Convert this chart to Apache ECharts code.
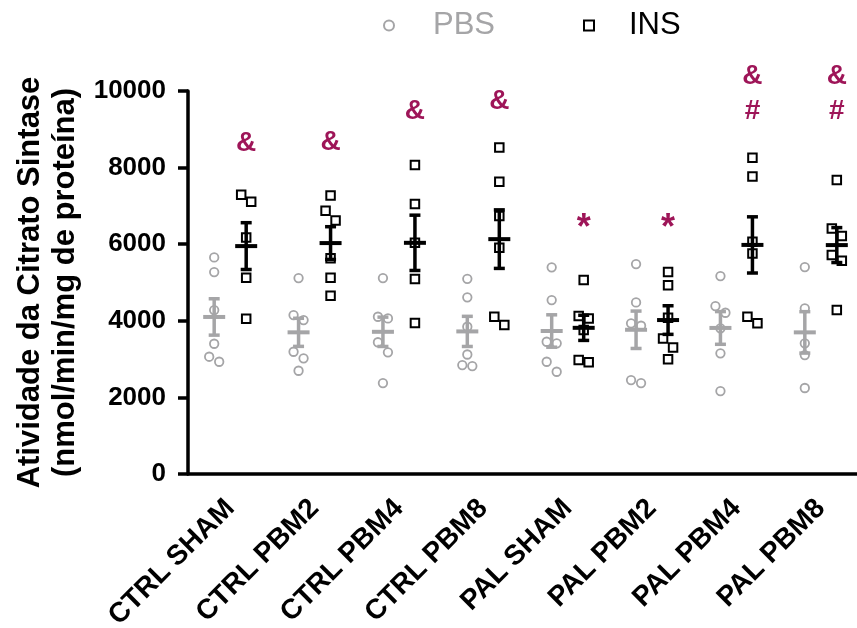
<!DOCTYPE html>
<html>
<head>
<meta charset="utf-8">
<script src="https://cdn.jsdelivr.net/npm/echarts@6/dist/echarts.min.js"></script>
<style>
html,body{margin:0;padding:0;background:#fff;}
#chart{width:857px;height:628px;}
</style>
</head>
<body>
<div id="chart"></div>
<script>
// ---------- DATA ----------
const categories = ['CTRL SHAM', 'CTRL PBM2', 'CTRL PBM4', 'CTRL PBM8', 'PAL SHAM', 'PAL PBM2', 'PAL PBM4', 'PAL PBM8'];
const pbsValues = [
  [5656, 5272, 4280, 3401, 3062, 2931],
  [5116, 4150, 4019, 3192, 3020, 2696],
  [5116, 4106, 4063, 3440, 3176, 2375],
  [5097, 4612, 3845, 3120, 2845, 2819],
  [5395, 4541, 3453, 3411, 2931, 2670],
  [5481, 4481, 3933, 3871, 2453, 2375],
  [5168, 4385, 4210, 3803, 3150, 2166],
  [5403, 4325, 3411, 3106, 2245]
];
const insValues = [
  [7290, 7107, 6178, 5124, 4053],
  [7273, 6873, 6622, 5630, 5124, 4654],
  [8065, 7047, 6037, 5090, 3941],
  [8527, 7630, 6734, 5907, 4106, 3889],
  [5063, 4124, 4063, 3758, 2975, 2915],
  [5272, 4925, 4080, 3541, 3306, 2993],
  [8256, 7770, 6063, 5760, 4106, 3933],
  [7673, 6413, 6212, 5716, 5567, 4280]
];
// significance marks (placed above the INS group, in data units)
const annoCategory = [0, 1, 2, 3, 4, 5, 6, 6, 7, 7];
const annoText     = ['&', '&', '&', '&', '*', '*', '&', '#', '&', '#'];
const annoValue    = [8630, 8670, 9480, 9740, 6400, 6400, 10380, 9480, 10380, 9480];
const yTicks = { min: 0, max: 10000, interval: 2000 };

// ---------- STYLE ----------
const GRAY = '#a5a5a7';
const BLACK = '#000000';
const MAGENTA = '#9e1558';
const GROUP_OFF = 16;   // px offset of each group from the tick
const PAIR_OFF = 5;     // px offset for overlapping points
const CLUSTER = 270;    // data units under which points are considered overlapping

function stats(arr) {
  const n = arr.length;
  const m = arr.reduce((a, b) => a + b, 0) / n;
  const v = arr.reduce((a, b) => a + (b - m) * (b - m), 0) / (n - 1);
  return [m, Math.sqrt(v / n)];
}

// build scatter points with a simple overlap-avoiding horizontal spread
function buildPoints(groups, side) {
  const out = [];
  groups.forEach((vals, ci) => {
    const asc = vals.slice().sort((a, b) => a - b);
    let i = 0;
    while (i < asc.length) {
      let j = i + 1;
      while (j < asc.length && asc[j] - asc[i] < CLUSTER) j++;
      const cl = asc.slice(i, j).sort((a, b) => b - a); // higher on the left
      const k = cl.length;
      cl.forEach((v, idx) => {
        const dx = side * GROUP_OFF + (idx - (k - 1) / 2) * 2 * PAIR_OFF;
        out.push({ value: [ci, v], symbolOffset: [dx, 0] });
      });
      i = j;
    }
  });
  return out;
}

const pbsStats = pbsValues.map((a, i) => [i].concat(stats(a)));
const insStats = insValues.map((a, i) => [i].concat(stats(a)));
const annoData = annoCategory.map((c, i) => [c, annoValue[i], annoText[i]]);

function statsRender(off, color) {
  return function (params, api) {
    const ci = api.value(0), m = api.value(1), s = api.value(2);
    const c = api.coord([ci, m]);
    const t = api.coord([ci, m + s]);
    const b = api.coord([ci, m - s]);
    const x = c[0] + off;
    const st = { stroke: color, lineWidth: 3.5 };
    return {
      type: 'group',
      children: [
        { type: 'line', shape: { x1: x, y1: t[1], x2: x, y2: b[1] }, style: st },
        { type: 'line', shape: { x1: x - 5.5, y1: t[1], x2: x + 5.5, y2: t[1] }, style: st },
        { type: 'line', shape: { x1: x - 5.5, y1: b[1], x2: x + 5.5, y2: b[1] }, style: st },
        { type: 'line', shape: { x1: x - 11, y1: c[1], x2: x + 11, y2: c[1] }, style: { stroke: color, lineWidth: 4 } }
      ]
    };
  };
}

const FONT = '"Liberation Sans", Arial, sans-serif';
const chart = echarts.init(document.getElementById('chart'), null, { renderer: 'canvas' });
chart.setOption({
  animation: false,
  backgroundColor: '#fff',
  textStyle: { fontFamily: FONT },
  legend: [
    {
      data: ['PBS'], left: 378, top: 5, itemWidth: 10, itemHeight: 10,
      textStyle: { color: GRAY, fontSize: 31, fontFamily: FONT, padding: [0, 0, 0, 34] }
    },
    {
      data: ['INS'], left: 578, top: 5, itemWidth: 10, itemHeight: 10,
      textStyle: { color: BLACK, fontSize: 31, fontFamily: FONT, padding: [0, 0, 0, 30] }
    }
  ],
  grid: { left: 188, right: -6, top: 91, bottom: 154, containLabel: false, outerBoundsMode: 'none' },
  xAxis: {
    type: 'category',
    data: categories,
    boundaryGap: true,
    axisLine: { lineStyle: { color: BLACK, width: 3.5 } },
    axisTick: { alignWithLabel: true, length: 11, lineStyle: { color: BLACK, width: 3.5 } },
    axisLabel: { rotate: 45, margin: 30, color: BLACK, fontSize: 28, fontWeight: 'bold', fontFamily: FONT, interval: 0 },
    splitLine: { show: false }
  },
  yAxis: {
    type: 'value',
    min: yTicks.min, max: yTicks.max, interval: yTicks.interval,
    name: 'Atividade da Citrato Sintase\n(nmol/min/mg de proteína)',
    nameLocation: 'middle',
    nameRotate: 90,
    nameGap: 103,
    nameTextStyle: { color: BLACK, fontSize: 31, fontWeight: 'bold', lineHeight: 35, fontFamily: FONT },
    axisLine: { show: true, lineStyle: { color: BLACK, width: 3.5 } },
    axisTick: { show: true, length: 10, lineStyle: { color: BLACK, width: 3.5 } },
    axisLabel: { color: BLACK, fontSize: 26, fontWeight: 'bold', margin: 22, fontFamily: FONT, formatter: function (v) { return String(v); } },
    splitLine: { show: false }
  },
  series: [
    {
      name: 'PBS', type: 'scatter', symbol: 'circle', symbolSize: 8.5,
      itemStyle: { color: 'rgba(255,255,255,0)', borderColor: GRAY, borderWidth: 1.8, opacity: 1 },
      data: buildPoints(pbsValues, -1), z: 2
    },
    {
      name: 'INS', type: 'scatter', symbol: 'rect', symbolSize: 8.5,
      itemStyle: { color: 'rgba(255,255,255,0)', borderColor: BLACK, borderWidth: 2, opacity: 1 },
      data: buildPoints(insValues, 1), z: 2
    },
    {
      name: 'PBS mean', type: 'custom', renderItem: statsRender(-GROUP_OFF, GRAY),
      data: pbsStats, z: 3, silent: true
    },
    {
      name: 'INS mean', type: 'custom', renderItem: statsRender(GROUP_OFF, BLACK),
      data: insStats, z: 3, silent: true
    },
    {
      name: 'marks', type: 'custom', clip: false, silent: true, z: 4,
      renderItem: function (params, api) {
        const c = api.coord([api.value(0), api.value(1)]);
        const txt = annoData[params.dataIndex][2];
        const size = txt === '*' ? 36 : 28;
        return {
          type: 'text',
          style: {
            x: c[0] + GROUP_OFF, y: c[1], text: txt,
            fill: MAGENTA, font: 'bold ' + size + 'px "Liberation Sans", Arial, sans-serif',
            align: 'center', verticalAlign: 'middle'
          }
        };
      },
      data: annoData
    }
  ]
});
</script>
</body>
</html>
